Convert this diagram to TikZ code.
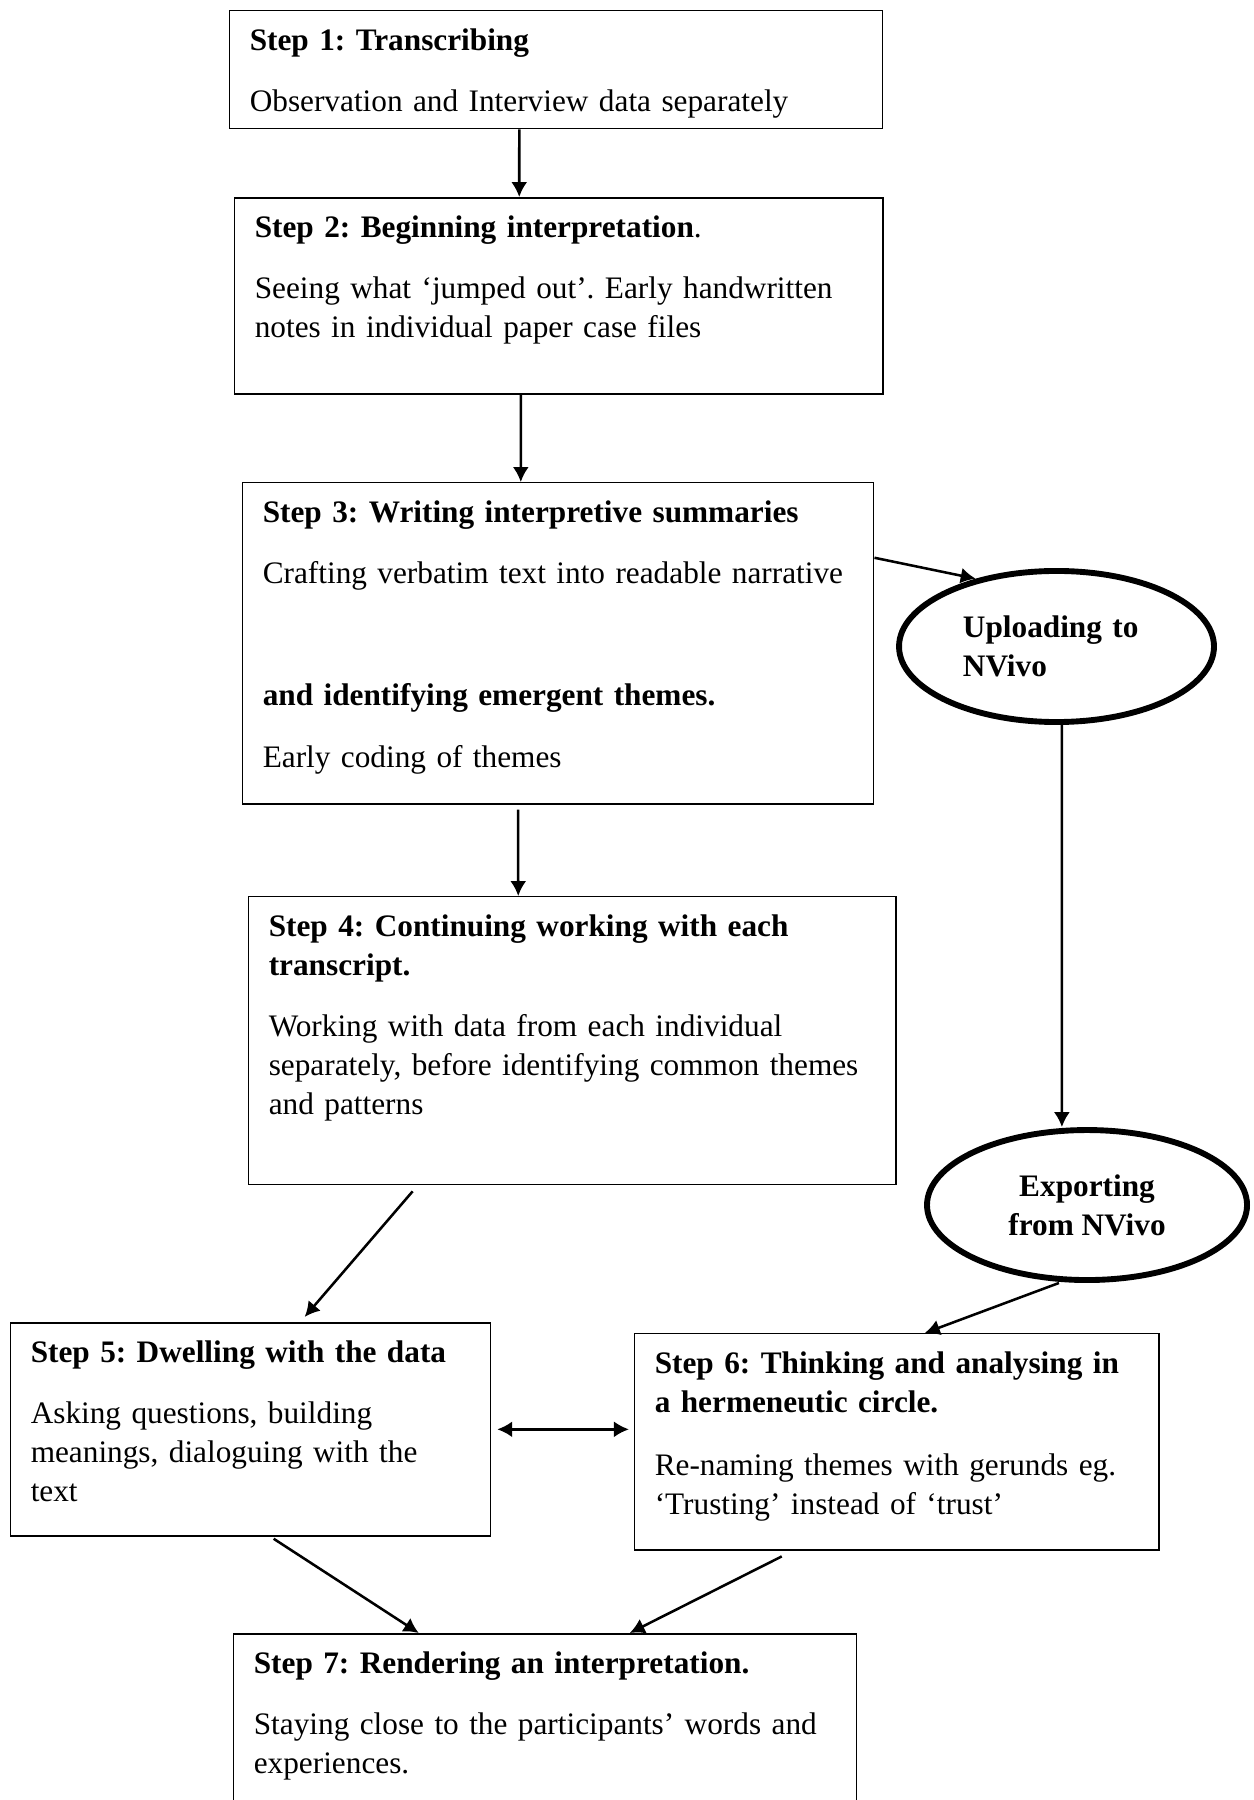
\documentclass[tikz,border=0pt]{standalone}
\usepackage{fontspec}
\setmainfont{Liberation Serif}
\usepackage{tikz}
\usetikzlibrary{shapes.geometric, arrows.meta, positioning}

\begin{document}
\frenchspacing
\begin{tikzpicture}[>={Latex[length=5.6pt,width=6pt]},
		every node/.style={font=\fontsize{11.7}{14.6}\selectfont},
		stepbox/.style={draw, line width=0.55pt, anchor=north west, align=left, inner xsep=7.5pt, inner ysep=4.5pt, text height=10.5pt},
		nvivo/.style={draw, ellipse, line width=2.2pt, inner sep=0pt, font=\fontsize{11.7}{14.6}\selectfont\bfseries},
		link/.style={line width=0.95pt}]
		\useasboundingbox (0cm,0cm) rectangle (16.484cm,-23.661cm);
		\draw (3.010cm,-0.131cm) node[stepbox, text width=229.2pt, text depth=24.6pt] (s1) {\textbf{Step 1: Transcribing}\\[8.2pt]Observation and Interview data separately}
		(3.076cm,-2.590cm) node[stepbox, text width=227.4pt, text depth=53.8pt] (s2) {\textbf{Step 2: Beginning interpretation}.\\[8.2pt]Seeing what ‘jumped out’. Early handwritten\\notes in individual paper case files}
		(3.181cm,-6.336cm) node[stepbox, text width=221pt, text depth=100.6pt] (s3) {\textbf{Step 3: Writing interpretive summaries}\\[8.2pt]Crafting verbatim text into readable narrative\\[31pt]\textbf{and identifying emergent themes.}\\[8.6pt]Early coding of themes}
		(3.260cm,-11.778cm) node[stepbox, text width=227pt, text depth=88.2pt] (s4) {\textbf{Step 4: Continuing working with each}\\\textbf{transcript.}\\[8.2pt]Working with data from each individual\\separately, before identifying common themes\\and patterns}
		(0.131cm,-17.378cm) node[stepbox, text width=164.5pt, text depth=60.2pt] (s5) {\textbf{Step 5: Dwelling with the data}\\[8.2pt]Asking questions, building\\meanings, dialoguing with the\\text}
		(8.334cm,-17.522cm) node[stepbox, text width=181pt, text depth=61.3pt] (s6) {\textbf{Step 6: Thinking and analysing in}\\\textbf{a hermeneutic circle.}\\[8.8pt]Re-naming themes with gerunds eg.\\‘Trusting’ instead of ‘trust’}
		(3.063cm,-21.466cm) node[stepbox, text width=218pt, text depth=55.5pt] (s7) {\textbf{Step 7: Rendering an interpretation.}\\[8.2pt]Staying close to the participants’ words and\\experiences.}
		(13.888cm,-8.498cm) node[nvivo, minimum width=117.8pt, minimum height=56.5pt, text width=70pt, align=left] (up) {Uploading to\\NVivo}
		(14.289cm,-15.840cm) node[nvivo, minimum width=119.7pt, minimum height=56.1pt, align=center] (ex) {Exporting\\from NVivo};

		\draw[->, link] ([xshift=-13.8pt]s1.south) -- ([xshift=-14.8pt]s2.north);
		\draw[->, link] ([xshift=-14.2pt]s2.south) -- ([xshift=-14pt]s3.north);
		\draw[->, link, shorten <=1.9pt] ([xshift=-15pt]s3.south) -- ([xshift=-20.2pt]s4.north);
		\draw[->, link] ([yshift=32pt]s3.east) -- (up.140);
		\draw[->, link] ([xshift=2pt]up.south) -- ([xshift=-9.4pt]ex.north);
		\draw[->, link] ([xshift=-59.7pt,yshift=-2.2pt]s4.south) -- ([xshift=20.2pt,yshift=1.9pt]s5.north);
		\draw[->, link] ([xshift=-10.5pt]ex.south) -- ([xshift=10.5pt]s6.north);
		\draw[<->, link, shorten <=2.2pt, shorten >=1.9pt] (s5.east) -- (s5.east -| s6.west);
		\draw[->, link] ([xshift=8.6pt,yshift=-0.8pt]s5.south) -- ([xshift=-47.3pt]s7.north);
		\draw[->, link] ([xshift=-43pt,yshift=-2.2pt]s6.south) -- ([xshift=31.6pt]s7.north);
	\end{tikzpicture}
\end{document}
